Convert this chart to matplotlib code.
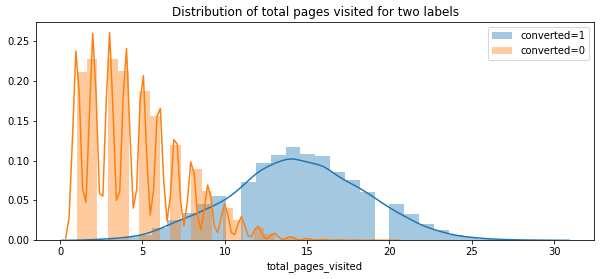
import numpy as np
import matplotlib.pyplot as plt

# bar heights (density) read per page value
pages_1 = list(range(2, 30))
height_1 = [0.001, 0.002, 0.004, 0.007, 0.015, 0.026, 0.034, 0.045, 0.055,
            0.073, 0.097, 0.107, 0.117, 0.108, 0.106, 0.086, 0.076, 0.061,
            0.045, 0.0325, 0.020, 0.0128, 0.0065, 0.004, 0.002, 0.001,
            0.0005, 0.0003]

pages_0 = list(range(1, 21))
height_0 = [0.211, 0.227, 0.227, 0.212, 0.187, 0.156, 0.120, 0.0895, 0.0614,
            0.0403, 0.026, 0.0156, 0.0078, 0.004, 0.002, 0.001, 0.0006,
            0.0003, 0.0002, 0.0001]

bw_1 = 0.635
bw_0 = 0.22
n_bins = 30


def kde_line(values, heights, bw):
    x = np.asarray(values, float)
    # each value sits alone in a bin, so weight = height * bin width
    w = np.asarray(heights, float) * (x.max() - x.min()) / n_bins
    grid = np.linspace(x.min() - 3 * bw, x.max() + 3 * bw, 100)
    z = (grid[:, None] - x[None, :]) / bw
    dens = (w * np.exp(-0.5 * z ** 2)).sum(axis=1) / (bw * np.sqrt(2 * np.pi))
    return grid, dens


fig = plt.figure(figsize=(605 / 72, 279 / 72), dpi=72)
ax = fig.add_axes([36.3 / 605, 38.7 / 279, 558 / 605, 218 / 279])

ax.hist(pages_1, bins=n_bins, weights=height_1,
        color='#1f77b4', alpha=0.4, label='converted=1')
gx, gy = kde_line(pages_1, height_1, bw_1)
ax.plot(gx, gy, color='#1f77b4', lw=1.5)

ax.hist(pages_0, bins=n_bins, weights=height_0,
        color='#ff7f0e', alpha=0.4, label='converted=0')
gx, gy = kde_line(pages_0, height_0, bw_0)
ax.plot(gx, gy, color='#ff7f0e', lw=1.5)

ax.set_title('Distribution of total pages visited for two labels')
ax.set_xlabel('total_pages_visited')
ax.legend(loc='upper right')

fig.savefig('out.png', dpi=72)
